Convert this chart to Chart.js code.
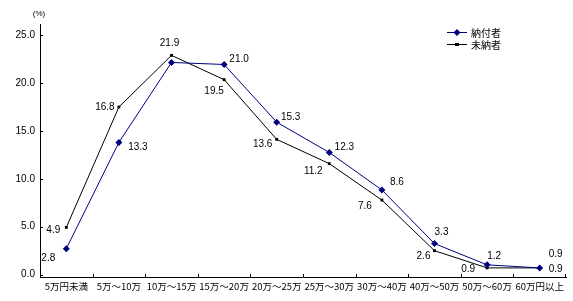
<!DOCTYPE html>
<html>
<head>
<meta charset="utf-8">
<script src="https://cdn.jsdelivr.net/npm/chart.js@4.4.1/dist/chart.umd.min.js"></script>
<style>
  html, body { margin: 0; padding: 0; background: #fff; }
  #wrap { width: 573px; height: 301px; position: relative; }
</style>
</head>
<body>
<div id="wrap"><canvas id="incomeChart"></canvas></div>
<script>
// データ
const categories = ['5万円未満', '5万～10万', '10万～15万', '15万～20万', '20万～25万',
                    '25万～30万', '30万～40万', '40万～50万', '50万～60万', '60万円以上'];
const paidValues   = [2.8, 13.3, 21.2, 21.0, 15.3, 12.3, 8.6, 3.3, 1.2, 0.9];  // 納付者
const unpaidValues = [4.9, 16.8, 21.9, 19.5, 13.6, 11.2, 7.6, 2.6, 0.9, 0.9];  // 未納者
const paidLabels   = ['2.8', '13.3', '', '21.0', '15.3', '12.3', '8.6', '3.3', '1.2', '0.9'];
const unpaidLabels = ['4.9', '16.8', '21.9', '19.5', '13.6', '11.2', '7.6', '2.6', '0.9', '0.9'];
const yTickValues  = [0, 5, 10, 15, 20, 25];
const seriesNames  = ['納付者', '未納者'];

// ラベルの位置ずらし (px)
const paidOffsets = [[-18, 10], [19, 5], [0, 0], [15, -5], [14, -5], [15, -5], [15, -8], [7, -11], [7, -9], [16, -14]];
const unpaidOffsets = [[-13, 3], [-14, 0], [-2, -12], [-10, 12], [-14, 5], [-16, 8], [-17, 6], [-11, 6], [-19, 1], [16, 1]];

const NUM_FONT = '10px "Liberation Sans", Arial, sans-serif';
const JP_FONT = '"Noto Sans CJK JP", sans-serif';

// 数値ラベル
const valueLabels = {
    id: 'valueLabels',
    afterDatasetsDraw(chart) {
        const ctx = chart.ctx;
        ctx.save();
        ctx.font = NUM_FONT;
        ctx.fillStyle = '#000';
        ctx.textAlign = 'center';
        ctx.textBaseline = 'middle';
        [[paidLabels, paidOffsets], [unpaidLabels, unpaidOffsets]].forEach(([labels, offs], di) => {
            const meta = chart.getDatasetMeta(di);
            meta.data.forEach((pt, i) => {
                if (!labels[i]) return;
                ctx.fillText(labels[i], pt.x + offs[i][0], pt.y + offs[i][1]);
            });
        });
        ctx.restore();
    }
};

// 内側の目盛り、(%)、凡例
const extras = {
    id: 'extras',
    afterDraw(chart) {
        const ctx = chart.ctx;
        const area = chart.chartArea;
        const xs = chart.scales.x;
        const ys = chart.scales.yLabel;
        ctx.save();
        ctx.strokeStyle = '#000';
        ctx.lineWidth = 1;
        ctx.beginPath();
        yTickValues.forEach(v => {
            const y = Math.round(ys.getPixelForValue(v)) + 0.5;
            ctx.moveTo(area.left, y);
            ctx.lineTo(area.left + 3, y);
        });
        for (let i = 1; i <= categories.length; i++) {
            const x = i < categories.length
                ? Math.round((xs.getPixelForValue(i - 1) + xs.getPixelForValue(i)) / 2) + 0.5
                : area.right - 0.5;
            ctx.moveTo(x, area.bottom);
            ctx.lineTo(x, area.bottom - 3);
        }
        ctx.stroke();

        ctx.fillStyle = '#000';
        ctx.font = '8px "Liberation Sans", Arial, sans-serif';
        ctx.textAlign = 'center';
        ctx.textBaseline = 'middle';
        ctx.fillText('(%)', 39, 14);

        // 凡例
        const legendItems = [
            { name: seriesNames[0], color: '#000080', y: 32, style: 'diamond' },
            { name: seriesNames[1], color: '#000000', y: 44, style: 'square' }
        ];
        legendItems.forEach(it => {
            ctx.strokeStyle = it.color;
            ctx.fillStyle = it.color;
            ctx.beginPath();
            ctx.moveTo(447, it.y + 0.5);
            ctx.lineTo(467, it.y + 0.5);
            ctx.stroke();
            ctx.beginPath();
            if (it.style === 'diamond') {
                ctx.moveTo(457, it.y - 3);
                ctx.lineTo(460.5, it.y + 0.5);
                ctx.lineTo(457, it.y + 4);
                ctx.lineTo(453.5, it.y + 0.5);
                ctx.closePath();
                ctx.fill();
            } else {
                ctx.fillRect(455, it.y - 1, 4, 3);
            }
            ctx.fillStyle = '#000';
            ctx.font = '10px ' + JP_FONT;
            ctx.textAlign = 'left';
            ctx.fillText(it.name, 471, it.y + 1);
        });
        ctx.restore();
    }
};

new Chart(document.getElementById('incomeChart'), {
    type: 'line',
    data: {
        labels: categories,
        datasets: [
            {
                label: seriesNames[0],
                data: paidValues,
                borderColor: '#000080',
                backgroundColor: '#000080',
                borderWidth: 1,
                pointStyle: 'rectRot',
                pointRadius: 3.5,
                pointBorderWidth: 0,
                tension: 0,
                yAxisID: 'y'
            },
            {
                label: seriesNames[1],
                data: unpaidValues,
                borderColor: '#000000',
                backgroundColor: '#000000',
                borderWidth: 1,
                pointStyle: 'rect',
                pointRadius: 2,
                pointBorderWidth: 0,
                tension: 0,
                yAxisID: 'y'
            }
        ]
    },
    options: {
        responsive: true,
        maintainAspectRatio: false,
        animation: false,
        layout: { padding: { top: 24, right: 7, left: 0, bottom: 0 } },
        plugins: {
            legend: { display: false },
            tooltip: { enabled: false }
        },
        scales: {
            x: {
                offset: true,
                grid: { display: true, drawOnChartArea: false, drawTicks: false },
                border: { display: true, color: '#000', width: 1 },
                ticks: {
                    color: '#000',
                    font: { family: JP_FONT, size: 9.5 },
                    padding: 4,
                    autoSkip: false,
                    maxRotation: 0,
                    minRotation: 0
                },
                afterFit(scale) { scale.height = 24; }
            },
            y: {
                display: false,
                min: 0,
                max: 25
            },
            yLabel: {
                position: 'left',
                min: -0.25,
                max: 26.15,
                grid: { display: true, drawOnChartArea: false, drawTicks: false },
                border: { display: true, color: '#000', width: 1 },
                afterBuildTicks(scale) {
                    scale.ticks = yTickValues.map(v => ({ value: v }));
                },
                ticks: {
                    color: '#000',
                    font: { family: '"Liberation Sans", Arial, sans-serif', size: 10 },
                    padding: 5,
                    callback: v => v.toFixed(1)
                },
                afterFit(scale) { scale.width = 40; }
            }
        }
    },
    plugins: [valueLabels, extras]
});
</script>
</body>
</html>
